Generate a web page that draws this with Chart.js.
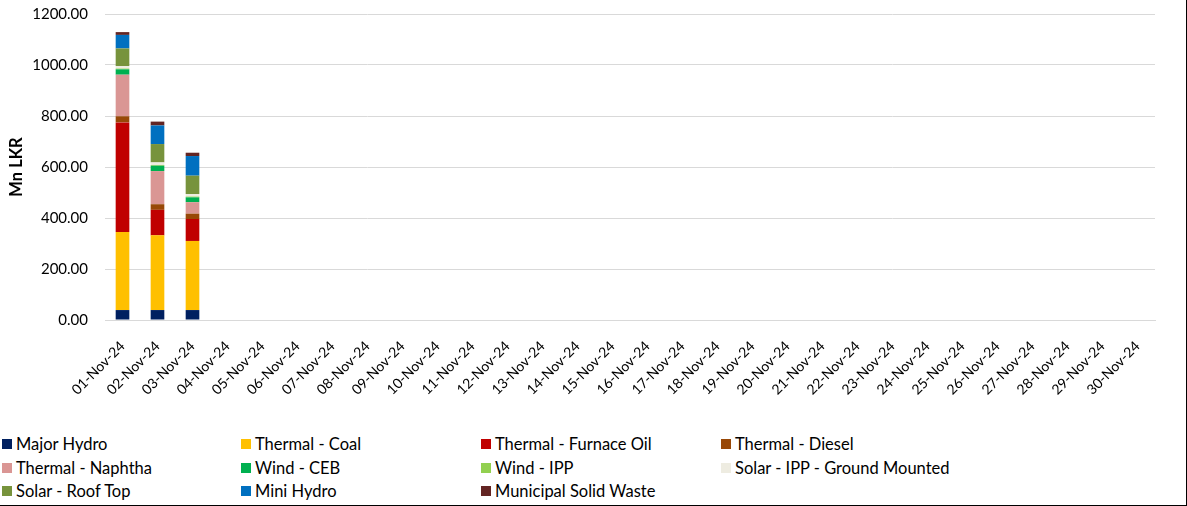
<!DOCTYPE html>
<html><head><meta charset="utf-8">
<script src="https://cdn.jsdelivr.net/npm/chart.js@4/dist/chart.umd.min.js"></script>
<style>
html,body{margin:0;padding:0;background:#fff;}
#wrap{position:relative;width:1186px;height:505px;border-right:1px solid #000;border-bottom:1px solid #000;overflow:hidden;font-family:Lato,"Open Sans",sans-serif;}
#cv{position:absolute;left:0;top:-12px;}
#legend{position:absolute;left:0;top:434px;width:1186px;}
.li{position:absolute;display:flex;align-items:center;font-size:16.5px;color:#000;white-space:nowrap;}
.sw{width:10px;height:10px;margin-right:4px;}
</style></head>
<body>
<div id="wrap"><canvas id="cv" width="1186" height="427"></canvas><div id="legend"></div></div>
<script>
const categories = [];
for (let d = 1; d <= 30; d++) categories.push((d < 10 ? '0' : '') + d + '-Nov-24');
const seriesNames = ['Major Hydro','Thermal - Coal','Thermal - Furnace Oil','Thermal - Diesel','Thermal - Naphtha','Wind - CEB','Wind - IPP','Solar - IPP - Ground Mounted','Solar - Roof Top','Mini Hydro','Municipal Solid Waste'];
const seriesColors = ['#002060','#FFC000','#C00000','#984807','#DA9694','#00B050','#92D050','#EEECE1','#77933C','#0070C0','#632523'];
const majorHydro = [39, 39, 39];
const thermalCoal = [306, 293, 271];
const thermalFurnaceOil = [430, 100, 86];
const thermalDiesel = [24, 22, 21];
const thermalNaphtha = [163, 130, 45];
const windCEB = [21, 21, 19];
const windIPP = [3, 3, 3];
const solarIPPGround = [10, 10, 10];
const solarRoofTop = [69, 72, 72];
const miniHydro = [53, 73, 77];
const municipalSolidWaste = [11, 15, 13];
const yTicks = [0, 200, 400, 600, 800, 1000, 1200];

const seriesValues = [majorHydro, thermalCoal, thermalFurnaceOil, thermalDiesel, thermalNaphtha, windCEB, windIPP, solarIPPGround, solarRoofTop, miniHydro, municipalSolidWaste];

const datasets = seriesNames.map((n, i) => ({
  label: n, data: seriesValues[i], backgroundColor: seriesColors[i],
  barPercentage: 0.39, categoryPercentage: 1.0, borderWidth: 0
}));

const FONT = 'Lato';
new Chart(document.getElementById('cv'), {
  type: 'bar',
  data: { labels: categories, datasets },
  options: {
    responsive: false, animation: false,
    layout: { padding: { top: 0, right: 31, left: 0, bottom: 0 } },
    plugins: { legend: { display: false }, tooltip: { enabled: false } },
    scales: {
      x: { stacked: true,
        afterFit: s => { s.height = 95; },
        grid: { display: false, drawTicks: false },
        border: { display: true, color: '#d9d9d9' },
        ticks: { minRotation: 45, maxRotation: 45, autoSkip: false, color: '#000', padding: 18, font: { family: FONT, size: 14 } } },
      y: { stacked: true, min: 0, max: 1200,
        afterFit: s => { s.width = 105; },
        afterBuildTicks: a => { a.ticks = yTicks.map(v => ({ value: v })); },
        grid: { color: '#d9d9d9', drawTicks: false },
        border: { display: false },
        title: { display: true, text: 'Mn LKR', color: '#000', font: { family: FONT, size: 16.5, weight: 'bold' }, padding: { top: 7, bottom: 4 } },
        ticks: { color: '#000', padding: 17, font: { family: FONT, size: 15 }, callback: v => Number(v).toFixed(2) } }
    }
  }
});

const leg = document.getElementById('legend');
const colX = [2, 241, 481, 721];
seriesNames.forEach((n, i) => {
  const el = document.createElement('div');
  el.className = 'li';
  el.style.left = colX[i % 4] + 'px';
  el.style.top = (Math.floor(i / 4) * 23.5) + 'px';
  el.innerHTML = '<span class="sw" style="background:' + seriesColors[i] + '"></span><span>' + n + '</span>';
  leg.appendChild(el);
});
</script>
</body></html>
